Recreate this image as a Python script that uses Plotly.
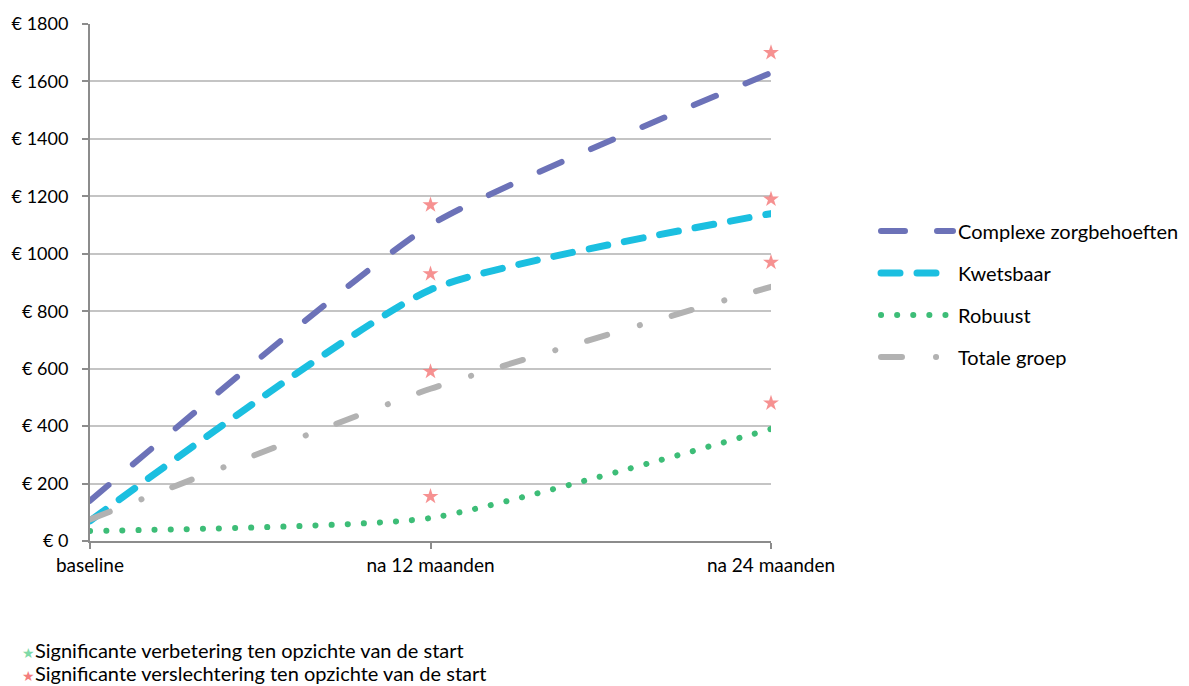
import plotly.graph_objects as go

categories = ["baseline", "na 12 maanden", "na 24 maanden"]
complexe = [140, 1100, 1630]
kwetsbaar = [70, 875, 1140]
robuust = [35, 80, 390]
totale = [75, 530, 885]
star_12 = [1170, 930, 590, 155]
star_24 = [1700, 1190, 970, 480]
y_ticks = [0, 200, 400, 600, 800, 1000, 1200, 1400, 1600, 1800]
y_ticktext = ["€ " + str(v) for v in y_ticks]

FONT = "Lato"
xidx = list(range(len(categories)))

fig = go.Figure()
series = [
    ("Complexe zorgbehoeften", complexe, "#6C72B8", 6, "24px,32px"),
    ("Kwetsbaar", kwetsbaar, "#1BBFE0", 7, "19px,17px"),
    ("Robuust", robuust, "#3DBD77", 6, "0.1px,16px"),
    ("Totale groep", totale, "#B2B2B2", 6, "21px,34px,0.1px,33px"),
]
for i, (name, vals, col, w, dash) in enumerate(series):
    fig.add_trace(go.Scatter(
        x=xidx, y=vals, name=name, mode="lines",
        line=dict(color=col, width=w, dash=dash, shape="spline", smoothing=0.5),
        legendgroup="g%d" % i, cliponaxis=False,
    ))

fig.add_trace(go.Scatter(
    x=[1] * len(star_12) + [2] * len(star_24), y=star_12 + star_24,
    mode="markers", showlegend=False, cliponaxis=False,
    marker=dict(symbol="star", size=12, color="#F47E7E", opacity=0.85, line=dict(width=0)),
))

fig.update_layout(
    width=1189, height=686,
    margin=dict(l=90, r=418, t=22, b=145),
    paper_bgcolor="white", plot_bgcolor="white",
    font=dict(family=FONT, size=19, color="#000000"),
    showlegend=True,
    legend=dict(
        xref="container", yref="container", x=876 / 1189, y=1 - 294 / 686,
        xanchor="left", yanchor="middle", itemwidth=72,
        font=dict(family=FONT, size=20, color="#000"),
        tracegroupgap=13, bgcolor="rgba(0,0,0,0)",
    ),
    xaxis=dict(
        range=[0, 2], tickvals=xidx, ticktext=categories,
        showgrid=False, zeroline=False,
        showline=True, linecolor="#8C8C8C", linewidth=1.5,
        ticks="outside", ticklen=6, tickcolor="#8C8C8C", tickwidth=1.5,
        tickfont=dict(family=FONT, size=19),
    ),
    yaxis=dict(
        range=[0, 1800], tickvals=y_ticks, ticktext=y_ticktext,
        showgrid=True, gridcolor="#C4C4C4", gridwidth=1.5,
        zeroline=False, showline=True, linecolor="#8C8C8C", linewidth=2,
        ticks="outside", ticklen=6, tickcolor="#8C8C8C", tickwidth=1.5,
        tickfont=dict(family=FONT, size=18), ticklabelstandoff=10,
    ),
    annotations=[
        dict(xref="paper", yref="paper", x=(20 - 90) / 681, y=-(650 - 541) / 519,
             xanchor="left", yanchor="middle", showarrow=False,
             text="<span style='color:#7FDAA8;font-size:14px'>★</span>Significante verbetering ten opzichte van de start",
             font=dict(family=FONT, size=20, color="#000")),
        dict(xref="paper", yref="paper", x=(20 - 90) / 681, y=-(674 - 541) / 519,
             xanchor="left", yanchor="middle", showarrow=False,
             text="<span style='color:#F47E7E;font-size:14px'>★</span>Significante verslechtering ten opzichte van de start",
             font=dict(family=FONT, size=20, color="#000")),
    ],
)

post = """
(function(){
  document.body.style.margin = '0';
  var gd = document.getElementById('{plot_id}');
  function fix(){
    gd.querySelectorAll('.scatterlayer .js-line, .legendlines path').forEach(function(p){
      p.style.strokeLinecap = 'round';
    });
  }
  fix();
  if (gd.on) gd.on('plotly_afterplot', fix);
  setTimeout(fix, 50);
})();
"""

fig.write_html("out.html", post_script=post, config={"displayModeBar": False})
